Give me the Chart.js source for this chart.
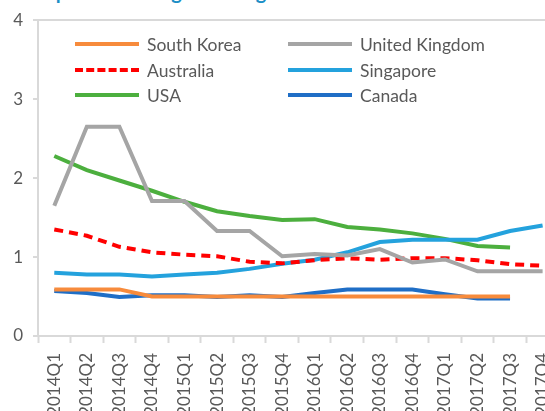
<!DOCTYPE html>
<html>
<head>
<meta charset="utf-8">
<script src="https://cdn.jsdelivr.net/npm/chart.js@4.4.1/dist/chart.umd.min.js"></script>
<style>
  html, body { margin: 0; padding: 0; background: #fff; overflow: hidden; }
  #frame { position: relative; width: 545px; height: 411px; overflow: hidden; }
  #title { position: absolute; left: 45px; top: -21px; font: bold 20px Lato, sans-serif; color: #1d8fc6; white-space: nowrap; }
  #chart { position: absolute; left: 0; top: 0; }
  #legend { position: absolute; left: 0; top: 0; font: 17.5px Lato, sans-serif; color: #595959; }
  .item { position: absolute; display: flex; align-items: center; height: 20px; white-space: nowrap; }
  .swatch { width: 64px; height: 0; margin-right: 8px; }
</style>
</head>
<body>
<div id="frame">
  <div id="title">Spread: lending vs savings rates</div>
  <canvas id="chart" width="573" height="430"></canvas>
  <div id="legend"></div>
</div>
<script>
const quarters = ["2014Q1", "2014Q2", "2014Q3", "2014Q4", "2015Q1", "2015Q2", "2015Q3", "2015Q4",
  "2016Q1", "2016Q2", "2016Q3", "2016Q4", "2017Q1", "2017Q2", "2017Q3", "2017Q4"];

const southKorea = [0.59, 0.59, 0.59, 0.5, 0.5, 0.5, 0.5, 0.5, 0.5, 0.5, 0.5, 0.5, 0.5, 0.5, 0.5, null];
const unitedKingdom = [1.65, 2.65, 2.65, 1.71, 1.71, 1.33, 1.33, 1.01, 1.04, 1.02, 1.1, 0.93, 0.97, 0.82, 0.82, 0.82];
const australia = [1.35, 1.27, 1.13, 1.06, 1.03, 1.01, 0.94, 0.92, 0.96, 0.985, 0.965, 0.985, 0.985, 0.96, 0.91, 0.89];
const singapore = [0.8, 0.78, 0.78, 0.755, 0.78, 0.8, 0.85, 0.915, 0.965, 1.06, 1.19, 1.22, 1.22, 1.22, 1.33, 1.4];
const usa = [2.28, 2.1, 1.97, 1.84, 1.7, 1.58, 1.52, 1.47, 1.48, 1.38, 1.35, 1.3, 1.23, 1.14, 1.12, null];
const canada = [0.57, 0.545, 0.495, 0.515, 0.515, 0.495, 0.515, 0.495, 0.545, 0.59, 0.59, 0.59, 0.53, 0.475, 0.475, null];

const yTicks = [0, 1, 2, 3, 4];

const axisGrey = "#d9d9d9";
const textGrey = "#595959";

function line(label, data, color, dash) {
  return {
    label: label,
    data: data,
    borderColor: color,
    backgroundColor: color,
    borderWidth: 4,
    borderDash: dash || [],
    pointRadius: 0,
    tension: 0,
    spanGaps: false,
  };
}

const chart = new Chart(document.getElementById("chart"), {
  type: "line",
  data: {
    labels: quarters,
    datasets: [
      line("South Korea", southKorea, "#f78b3c"),
      line("United Kingdom", unitedKingdom, "#a5a5a5"),
      line("Australia", australia, "#ff0000", [9, 6]),
      line("Singapore", singapore, "#24a2dd"),
      line("USA", usa, "#4caf3e"),
      line("Canada", canada, "#1f6ec6"),
    ],
  },
  options: {
    responsive: false,
    animation: false,
    layout: { padding: { top: 18, left: 0, right: 0, bottom: 0 } },
    plugins: {
      legend: { display: false },
      tooltip: { enabled: false },
    },
    scales: {
      x: {
        offset: true,
        grid: {
          offset: true,
          drawOnChartArea: false,
          tickLength: 7,
          tickColor: axisGrey,
          tickWidth: 2,
        },
        border: { color: axisGrey, width: 2 },
        ticks: {
          autoSkip: false,
          minRotation: 90,
          maxRotation: 90,
          padding: 10,
          color: textGrey,
          font: { family: "Lato", size: 17 },
        },
        afterFit: (s) => { s.height = 94; },
      },
      y: {
        min: 0,
        max: 4,
        afterBuildTicks: (s) => { s.ticks = yTicks.map((v) => ({ value: v })); },
        grid: {
          color: (ctx) => (ctx.tick && ctx.tick.value === 4 ? axisGrey : "transparent"),
          lineWidth: 2,
          tickLength: 5,
          tickColor: axisGrey,
          tickWidth: 2,
        },
        border: { color: axisGrey, width: 2 },
        ticks: {
          padding: 10,
          color: textGrey,
          font: { family: "Lato", size: 17 },
        },
        afterFit: (s) => { s.width = 38; },
      },
    },
  },
});

// legend laid out in two columns, like the original
const legendSpots = [[75, 34], [288, 34], [75, 60], [288, 60], [75, 85], [288, 85]];
const legendBox = document.getElementById("legend");
chart.data.datasets.forEach((ds, i) => {
  const item = document.createElement("div");
  item.className = "item";
  item.style.left = legendSpots[i][0] + "px";
  item.style.top = legendSpots[i][1] + "px";
  const sw = document.createElement("span");
  sw.className = "swatch";
  sw.style.borderTop = "4px " + (ds.borderDash.length ? "dashed " : "solid ") + ds.borderColor;
  item.appendChild(sw);
  item.appendChild(document.createTextNode(ds.label));
  legendBox.appendChild(item);
});
</script>
</body>
</html>
